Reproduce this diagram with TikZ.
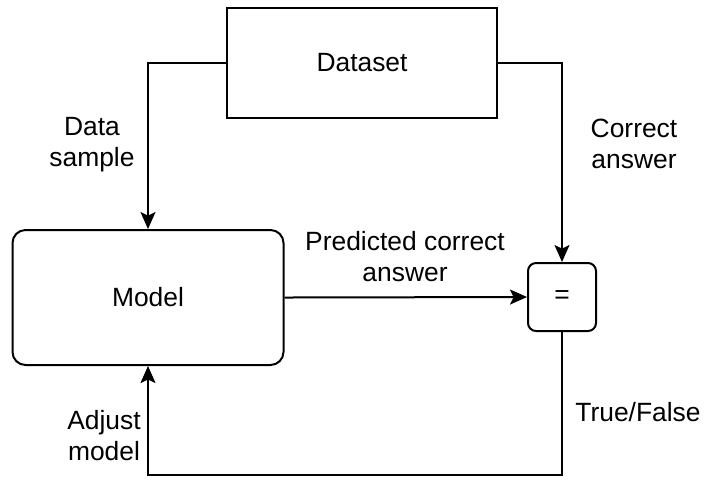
\documentclass[tikz,border=0pt]{standalone}
\usepackage{fontspec}
\setmainfont{Liberation Sans}
\usetikzlibrary{arrows.meta}
\usetikzlibrary{positioning}

\tikzset{
  block/.style={draw, line width=1pt, minimum width=135pt, minimum height=55pt},
  softblock/.style={block, rounded corners=6.5pt, minimum width=135.5pt, minimum height=67.5pt},
  eqbox/.style={draw, line width=1pt, rounded corners=4pt, minimum width=34pt, minimum height=34pt},
  lbl/.style={align=center, inner sep=0pt},
  arr/.style={line width=1pt, -{Stealth[length=8.5pt, width=7.5pt, inset=1.8pt]}}
}

\begin{document}
\begin{tikzpicture}[x=0.5pt, y=-0.5pt, font=\fontsize{13.2}{15.5}\selectfont]

\useasboundingbox (0,0) rectangle (704,479);

% boxes
\node[block] (dataset) at (362,62.5) {Dataset};
\node[softblock] (model) at (148,297.5) {Model};
\node[eqbox] (eq) at (562,297) {=};

\coordinate (bottom) at (148,475);

% connectors
\draw[arr] (dataset.west) -| (model.north);
\draw[arr] (dataset.east) -| (eq.north);
\draw[arr] (model.east) -- (eq.west);
\draw[arr] (eq.south) |- (bottom) -- (model.south);

% labels
\node[lbl] (lblsample) at (92,145) {Data\\sample};
\node[lbl] (lblcorrect) at (634,144) {Correct\\answer};
\node[lbl] (lblpredicted) at (405,257) {Predicted correct\\answer};
\node[lbl] (lbltruefalse) at (638,412) {True/False};
\node[lbl] (lbladjust) at (104,436) {Adjust\\model};

\end{tikzpicture}
\end{document}
